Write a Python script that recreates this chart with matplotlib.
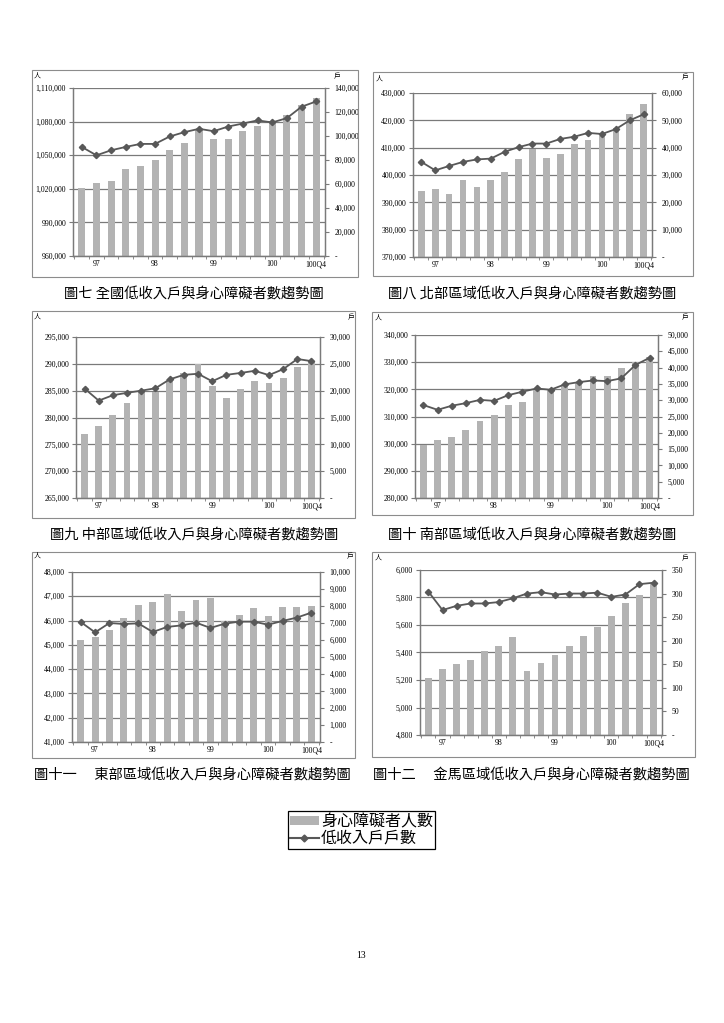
# -*- coding: utf-8 -*-
"""Trend charts: low income households and people with disabilities."""

import matplotlib
matplotlib.use('Agg')
import matplotlib.pyplot as plt
from matplotlib.patches import Rectangle, Patch
from matplotlib.lines import Line2D
from matplotlib.ticker import FuncFormatter, FixedLocator

# Data (17 quarters, 96Q4 .. 100Q4):
lstTckPos = [1, 5, 9, 13, 16]
lstTckLbl = ['97', '98', '99', '100', '100Q4']

nat_ppl = [1020700, 1025100, 1027200, 1037700, 1040700, 1045800, 1055000,
           1061000, 1072900, 1064300, 1064900, 1071800, 1076500, 1079500,
           1085500, 1094500, 1101000]
nat_hh = [90900, 83900, 88100, 90900, 93400, 93400, 99600, 103200, 106000,
          104000, 107900, 110400, 113000, 111300, 114900, 124400, 128800]

north_ppl = [394000, 395000, 393200, 398000, 395500, 398000, 401000, 405700,
             409600, 406100, 407700, 411500, 412700, 414400, 417300, 422200,
             425900]
north_hh = [34800, 31700, 33300, 34800, 35700, 36000, 38500, 40200, 41500,
            41500, 43200, 44000, 45400, 45000, 46800, 50000, 52200]

mid_ppl = [276850, 278400, 280500, 282700, 284950, 284800, 287100, 288300,
           289950, 285900, 283600, 285300, 286800, 286500, 287300, 289500,
           290300]
mid_hh = [20400, 18150, 19150, 19600, 20000, 20450, 22100, 22950, 23150,
          21750, 22950, 23300, 23700, 22900, 24000, 25900, 25500]

south_ppl = [299400, 301300, 302500, 305100, 308300, 310500, 314100, 315200,
             319700, 320000, 321900, 322500, 324800, 325000, 327700, 329900,
             332000]
south_hh = [28500, 27050, 28300, 29100, 30100, 29800, 31550, 32600, 33600,
            33200, 34850, 35550, 36050, 35850, 36700, 40800, 43000]

east_ppl = [45200, 45310, 45610, 46110, 46650, 46770, 47100, 46410, 46850,
            46910, 45970, 46230, 46520, 46180, 46560, 46540, 46580]
east_hh = [7060, 6450, 7000, 6940, 6980, 6470, 6770, 6860, 7020, 6710, 6960,
           7080, 7080, 6900, 7120, 7320, 7610]

km_ppl = [5212, 5278, 5314, 5343, 5411, 5450, 5515, 5268, 5321, 5379, 5447,
          5518, 5588, 5665, 5758, 5818, 5895]
km_hh = [304, 265, 274, 279, 279, 282, 290, 300, 303, 298, 300, 300, 302,
         293, 298, 320, 323]

# Captions:
lstCap = ['圖七 全國低收入戶與身心障礙者數趨勢圖',
          '圖八 北部區域低收入戶與身心障礙者數趨勢圖',
          '圖九 中部區域低收入戶與身心障礙者數趨勢圖',
          '圖十 南部區域低收入戶與身心障礙者數趨勢圖',
          '圖十一\u3000 東部區域低收入戶與身心障礙者數趨勢圖',
          '圖十二\u3000 金馬區域低收入戶與身心障礙者數趨勢圖']

# Colours and fonts:
strBarClr = '#b3b3b3'
strLnClr = '#585858'
strGrdClr = '#7a7a7a'
strNumFont = 'Liberation Serif'
lstCjkFont = ['Noto Sans CJK TC', 'DejaVu Sans']

varW, varH = 724.0, 1023.0


def px_rect(x0, y0, x1, y1):
    """Pixel box (top-left origin) to figure fraction rect."""
    return [x0 / varW, 1.0 - y1 / varH, (x1 - x0) / varW, (y1 - y0) / varH]


def fmt_right(v, pos):
    if abs(v) < 1e-9:
        return '-'
    return '{:,.0f}'.format(v)


def plot_panel(fig, vecPpl, vecHh, tplLeft, tplRight, tplPlot, tplBox,
               tplPplTxt, tplHhTxt, strCap, tplCap):
    # Gray frame around the chart:
    fig.patches.append(Rectangle((tplBox[0] / varW, 1.0 - tplBox[3] / varH),
                                 (tplBox[2] - tplBox[0]) / varW,
                                 (tplBox[3] - tplBox[1]) / varH,
                                 transform=fig.transFigure, fill=False,
                                 edgecolor='#8c8c8c', linewidth=0.8))

    axsL = fig.add_axes(px_rect(*tplPlot))
    vecX = list(range(len(vecPpl)))
    axsL.bar(vecX, vecPpl, width=0.48, color=strBarClr, zorder=2)
    axsL.set_ylim(tplLeft[0], tplLeft[1])
    axsL.set_yticks([tplLeft[0] + i * tplLeft[2] for i in
                     range(int(round((tplLeft[1] - tplLeft[0]) /
                                     tplLeft[2])) + 1)])
    axsL.yaxis.set_major_formatter(FuncFormatter(
        lambda v, p: '{:,.0f}'.format(v)))
    axsL.set_xlim(-0.6, len(vecPpl) - 0.4)
    axsL.set_axisbelow(True)
    axsL.grid(axis='y', color=strGrdClr, linewidth=0.9)

    axsL.set_xticks(lstTckPos)
    axsL.set_xticklabels(lstTckLbl)
    axsL.xaxis.set_minor_locator(FixedLocator(
        [i + 0.5 for i in range(-1, len(vecPpl))]))
    axsL.tick_params(axis='x', which='major', length=0, pad=3)
    axsL.tick_params(axis='x', which='minor', length=2, color=strGrdClr)
    axsL.tick_params(axis='y', length=3, color=strGrdClr, pad=2)

    # Line on the secondary axis:
    axsR = axsL.twinx()
    axsR.plot(vecX, vecHh, color=strLnClr, linewidth=1.3, marker='D',
              markersize=3.2, zorder=3)
    axsR.set_ylim(tplRight[0], tplRight[1])
    axsR.set_yticks([tplRight[0] + i * tplRight[2] for i in
                     range(int(round((tplRight[1] - tplRight[0]) /
                                     tplRight[2])) + 1)])
    axsR.yaxis.set_major_formatter(FuncFormatter(fmt_right))
    axsR.tick_params(axis='y', length=3, color=strGrdClr, pad=4)

    for axsTmp in (axsL, axsR):
        axsTmp.spines['top'].set_visible(False)
        for strSp in ('left', 'right', 'bottom'):
            axsTmp.spines[strSp].set_color(strGrdClr)
            axsTmp.spines[strSp].set_linewidth(0.9)
        for objLbl in (axsTmp.get_xticklabels() +
                       axsTmp.get_yticklabels()):
            objLbl.set_fontfamily(strNumFont)
            objLbl.set_fontsize(5.6)

    # Unit labels:
    fig.text(tplPplTxt[0] / varW, 1.0 - tplPplTxt[1] / varH, '人',
             family=lstCjkFont, fontsize=5, ha='center', va='center')
    fig.text(tplHhTxt[0] / varW, 1.0 - tplHhTxt[1] / varH, '戶',
             family=lstCjkFont, fontsize=5, ha='center', va='center')

    # Caption below the frame:
    fig.text(tplCap[0] / varW, 1.0 - tplCap[1] / varH, strCap,
             family=lstCjkFont, fontsize=10.3, ha='center', va='center')


fig01 = plt.figure(figsize=(7.24, 10.23), dpi=100, facecolor='w')

plot_panel(fig01, nat_ppl, nat_hh, (960000, 1110000, 30000),
           (0, 140000, 20000), (73, 88, 325, 256), (32, 70, 358, 277),
           (37, 76), (337, 76), lstCap[0], (194, 294))
plot_panel(fig01, north_ppl, north_hh, (370000, 430000, 10000),
           (0, 60000, 10000), (413, 93, 652, 257), (373, 72, 693, 276),
           (379, 79), (685, 77), lstCap[1], (532, 294))
plot_panel(fig01, mid_ppl, mid_hh, (265000, 295000, 5000),
           (0, 30000, 5000), (76, 337, 320, 498), (32, 311, 355, 518),
           (37, 317), (351, 317), lstCap[2], (194, 535))
plot_panel(fig01, south_ppl, south_hh, (280000, 340000, 10000),
           (0, 50000, 5000), (415, 335, 658, 498), (372, 312, 693, 515),
           (378, 318), (685, 317), lstCap[3], (532, 535))
plot_panel(fig01, east_ppl, east_hh, (41000, 48000, 1000),
           (0, 10000, 1000), (72, 572, 320, 742), (32, 552, 355, 758),
           (37, 556), (350, 556), lstCap[4], (192, 775))
plot_panel(fig01, km_ppl, km_hh, (4800, 6000, 200),
           (0, 350, 50), (420, 570, 662, 735), (372, 552, 695, 757),
           (378, 558), (685, 558), lstCap[5], (531, 775))

# Shared legend:
lstHnd = [Patch(facecolor=strBarClr, edgecolor='none'),
          Line2D([0], [0], color=strLnClr, linewidth=1.5, marker='D',
                 markersize=3.5)]
objLgd = fig01.legend(lstHnd, ['身心障礙者人數', '低收入戶戶數'],
                      loc='center',
                      bbox_to_anchor=(361.5 / varW, 1.0 - 830.0 / varH),
                      prop={'family': lstCjkFont, 'size': 11.5},
                      frameon=True, fancybox=False, framealpha=1.0,
                      edgecolor='k', borderpad=0.15, labelspacing=0.0,
                      handlelength=1.8, handleheight=0.5,
                      handletextpad=0.15, borderaxespad=0.0)
objLgd.get_frame().set_linewidth(0.9)

# Page number:
fig01.text(361 / varW, 1.0 - 956 / varH, '13', family=strNumFont,
           fontsize=7, ha='center', va='center')

fig01.savefig('out.png', dpi=100, facecolor='w')
